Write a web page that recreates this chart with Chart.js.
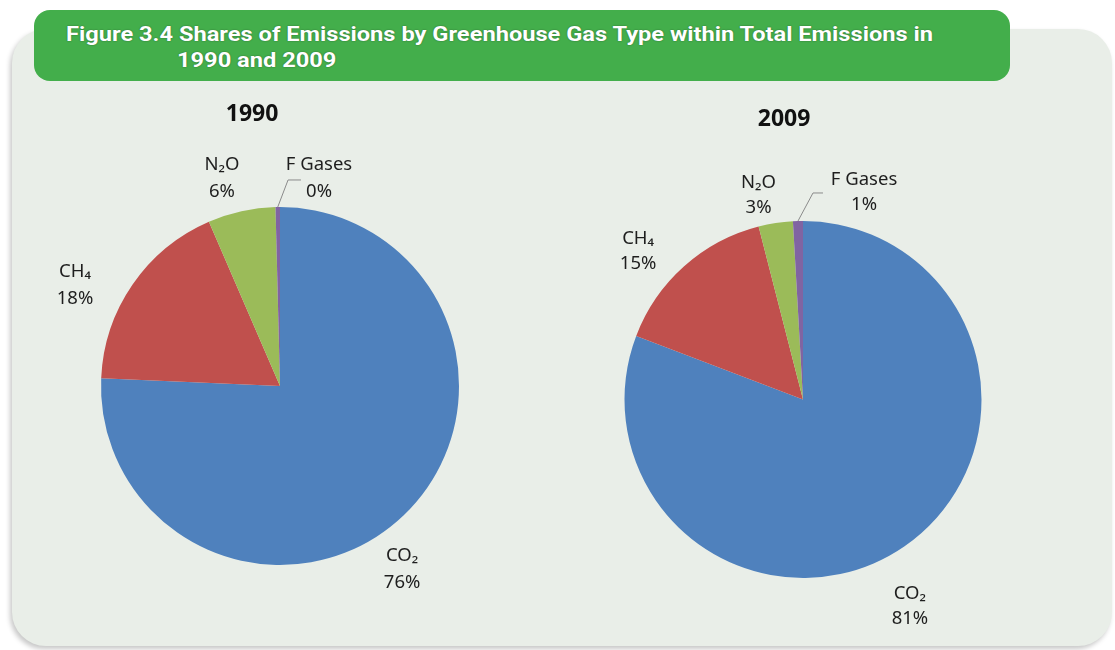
<!DOCTYPE html>
<html><head><meta charset="utf-8">
<script src="https://cdn.jsdelivr.net/npm/chart.js@4.4.0/dist/chart.umd.min.js"></script>
<style>
html,body{margin:0;padding:0;background:#fff;width:1115px;height:650px;overflow:hidden;position:relative;}
#panel{position:absolute;left:12px;top:29px;width:1100px;height:617px;background:#E9EEE8;border-radius:34px;box-shadow:-2px 3px 5px rgba(0,0,0,0.22);}
#header{position:absolute;left:34px;top:10px;width:976px;height:71px;background:#43AE4B;border-radius:16px;}
.hl{position:absolute;color:#fff;font:bold 20.5px Roboto,"Liberation Sans",sans-serif;white-space:nowrap;text-shadow:0 0 1.5px rgba(0,0,0,.45);line-height:22px;transform-origin:0 50%;}
#c1{position:absolute;left:0;top:90px;}
#c2{position:absolute;left:540px;top:90px;}
</style></head>
<body>
<div id="panel"></div>
<div id="header">
  <div class="hl" id="t1" style="left:32px;top:13px;">Figure 3.4 Shares of Emissions by Greenhouse Gas Type within Total Emissions in</div>
  <div class="hl" id="t2" style="left:143px;top:39px;">1990 and 2009</div>
</div>
<canvas id="c1" width="540" height="560"></canvas>
<canvas id="c2" width="575" height="560"></canvas>
<script>
// ---- data ----
const categories = ['CO₂', 'CH₄', 'N₂O', 'F Gases'];
const years = ['1990', '2009'];
const shares1990 = [75.7, 17.8, 6.1, 0.4];
const shares2009 = [80.8, 15.2, 3.1, 0.9];

const sliceColors = ['#4F81BD', '#C0504D', '#9BBB59', '#8064A2'];

// stretch header text horizontally to match the reference width
(function () {
  const t1 = document.getElementById('t1'), t2 = document.getElementById('t2');
  const w = t1.getBoundingClientRect().width;
  const s = 867 / w;
  t1.style.transform = 'scaleX(' + s + ')';
  t2.style.transform = 'scaleX(' + s + ')';
})();

const pieLabels = {
  id: 'pieLabels',
  afterDatasetsDraw(chart, args, o) {
    const ctx = chart.ctx;
    const meta = chart.getDatasetMeta(0);
    const a0 = meta.data[0];
    const cx = a0.x, cy = a0.y, r = a0.outerRadius;
    const vals = chart.data.datasets[0].data;
    const total = vals.reduce((s, v) => s + v, 0);
    ctx.save();
    ctx.textAlign = 'center';
    ctx.textBaseline = 'middle';
    ctx.fillStyle = '#111';
    ctx.font = 'bold 23px "Noto Sans", sans-serif';
    ctx.fillText(o.title, cx + o.titleOffset[0] * r, cy + o.titleOffset[1] * r);
    if (o.leader) {
      const a = meta.data[o.leader.index];
      const mid = (a.startAngle + a.endAngle) / 2;
      ctx.beginPath();
      ctx.moveTo(cx + Math.cos(mid) * r, cy + Math.sin(mid) * r);
      ctx.lineTo(cx + o.leader.bend[0] * r, cy + o.leader.bend[1] * r);
      ctx.lineTo(cx + o.leader.end[0] * r, cy + o.leader.end[1] * r);
      ctx.strokeStyle = '#8a8a8a';
      ctx.lineWidth = 1;
      ctx.stroke();
    }
    ctx.fillStyle = '#1e1e1e';
    ctx.font = '18.5px "Noto Sans", sans-serif';
    chart.data.labels.forEach((lab, i) => {
      const off = o.offsets[i];
      const x = cx + off[0] * r, y = cy + off[1] * r;
      ctx.fillText(lab, x, y - o.lineGap / 2);
      ctx.fillText(Math.round(vals[i] / total * 100) + '%', x, y + o.lineGap / 2);
    });
    ctx.restore();
  }
};

function makePie(id, values, year, padding, labelOpts) {
  return new Chart(document.getElementById(id), {
    type: 'pie',
    data: {
      labels: categories,
      datasets: [{ data: values, backgroundColor: sliceColors, borderWidth: 0 }]
    },
    options: {
      responsive: false,
      animation: false,
      events: [],
      layout: { padding: padding },
      plugins: {
        legend: { display: false },
        tooltip: { enabled: false },
        pieLabels: Object.assign({ title: year }, labelOpts)
      }
    },
    plugins: [pieLabels]
  });
}

makePie('c1', shares1990, years[0],
  { left: 101, right: 81, top: 117, bottom: 85 },
  {
    titleOffset: [-0.156, -1.518],
    lineGap: 27,
    offsets: [[0.682, 1.022], [-1.145, -0.564], [-0.324, -1.162], [0.218, -1.162]],
    leader: { index: 3, bend: [0.045, -1.151], end: [0.117, -1.151] }
  });

makePie('c2', shares2009, years[1],
  { left: 84.5, right: 133.5, top: 131, bottom: 72 },
  {
    titleOffset: [-0.106, -1.569],
    lineGap: 25,
    offsets: [[0.599, 1.160], [-0.924, -0.829], [-0.249, -1.146], [0.342, -1.162]],
    leader: { index: 3, bend: [0.056, -1.157], end: [0.112, -1.157] }
  });
</script>
</body></html>
